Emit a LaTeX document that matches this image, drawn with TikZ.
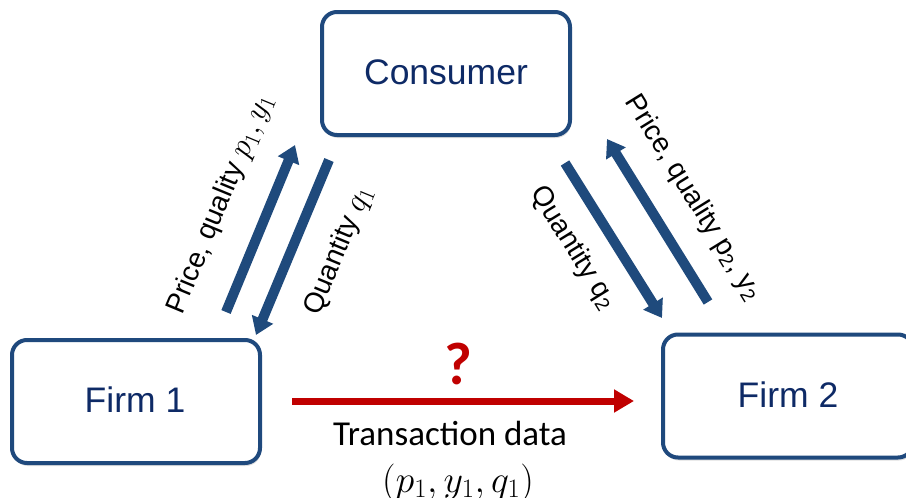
\RequirePackage{fix-cm}
\documentclass[tikz,border=0pt]{standalone}
\usepackage{fontspec}
\setmainfont{Liberation Sans}
\newfontfamily\calib{Carlito}
\usetikzlibrary{arrows.meta,shadows}
\definecolor{boxblue}{HTML}{1F497D}
\definecolor{txtblue}{HTML}{0E2A66}
\definecolor{arrblue}{HTML}{1F4A7C}
\definecolor{darkred}{HTML}{C00000}
\newcommand{\labmath}[1]{{\fontsize{32}{36}\selectfont$#1$}}
\tikzset{
  agent/.style={draw=boxblue, line width=4pt, rounded corners=15pt, fill=white,
    minimum width=248pt, minimum height=123pt, inner sep=0pt,
    drop shadow={opacity=0.25, shadow xshift=1pt, shadow yshift=-3pt}},
  agenttext/.style={text=txtblue, font=\fontsize{35.5}{42}\selectfont, anchor=base},
  flow/.style={draw=arrblue, line width=10pt,
    -{Triangle[length=17pt,width=22pt]}},
  flowlabel/.style={font=\fontsize{28}{33}\selectfont, inner sep=0pt},
  redflow/.style={draw=darkred, line width=7pt,
    -{Triangle[length=20pt,width=22pt]}}
}
\begin{document}
\begin{tikzpicture}[x=1pt,y=-1pt]
\useasboundingbox (0,0) rectangle (906,498);
\clip (0,0) rectangle (906,498);
% boxes
\node[agent] (consumer) at (446,73.5) {};
\node[agent] (firm1) at (136,401.5) {};
\node[agent, minimum width=250pt] (firm2) at (788,396) {};
\node[agenttext] (tc) at (446,84) {Consumer};
\node[agenttext] (tf1) at (135,412) {Firm 1};
\node[agenttext] (tf2) at (788,407) {Firm 2};
% left arrows
\coordinate (lpS) at (226,312);
\coordinate (lpE) at (295,145);
\coordinate (lqS) at (329,160);
\coordinate (lqE) at (256,335);
\draw[flow] (lpS) -- (lpE);
\draw[flow] (lqS) -- (lqE);
% right arrows
\coordinate (rqS) at (565,163);
\coordinate (rqE) at (662,318);
\coordinate (rpS) at (708,302);
\coordinate (rpE) at (607,139);
\draw[flow] (rqS) -- (rqE);
\draw[flow] (rpS) -- (rpE);
% labels
\node[flowlabel, rotate=67.5] (lpl) at (221,204) {Price, quality \labmath{p_1, y_1}};
\node[flowlabel, rotate=67.5] (lql) at (339,251) {Quantity \labmath{q_1}};
\node[flowlabel, rotate=-58.3] (rql) at (573,248) {Quantity q\textsubscript{2}};
\node[flowlabel, rotate=-58.3] (rpl) at (693,198) {Price, quality p\textsubscript{2}, y\textsubscript{2}};
% red arrow
\coordinate (dS) at (292,401);
\coordinate (dE) at (634,401);
\draw[redflow] (dS) -- (dE);
\node[text=darkred, font=\calib\bfseries\fontsize{60}{66}\selectfont, anchor=base] (qm) at (458,384) {?};
\node[font=\calib\fontsize{35}{42}\selectfont, anchor=base] (td) at (450,445) {Transaction data};
\node[font=\fontsize{38}{44}\selectfont, anchor=base] (tdm) at (458,492) {$(p_1, y_1, q_1)$};
\end{tikzpicture}
\end{document}
